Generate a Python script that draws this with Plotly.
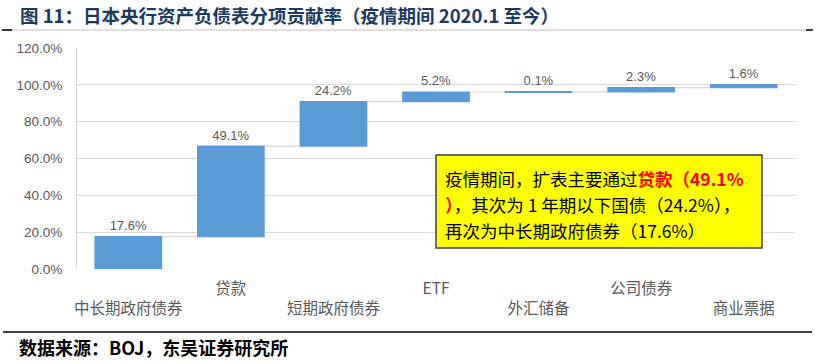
import plotly.graph_objects as go

categories = ["中长期政府债券", "贷款", "短期政府债券", "ETF", "外汇储备", "公司债券", "商业票据"]
contrib = [17.6, 49.1, 24.2, 5.2, 0.1, 2.3, 1.6]
y_ticks = [0, 20, 40, 60, 80, 100, 120]

# stagger tick labels into two rows like the original
tick_text = [c if i % 2 == 1 else "<br>" + c for i, c in enumerate(categories)]

W, H = 821, 364
L, R, T, B = 77, 26, 48, 95
pw, ph = W - L - R, H - T - B


def px(x):
    return (x - L) / pw


def py(y):
    return (H - B - y) / ph


NUMFONT = "Liberation Sans, Arial, sans-serif"

fig = go.Figure()
fig.add_trace(go.Waterfall(
    x=categories,
    y=contrib,
    measure=["relative"] * len(contrib),
    text=[f"{v:.1f}%" for v in contrib],
    textposition="outside",
    textfont=dict(family=NUMFONT, size=13, color="#595959"),
    increasing=dict(marker=dict(color="#5B9BD5", line=dict(width=0))),
    decreasing=dict(marker=dict(color="#5B9BD5", line=dict(width=0))),
    connector=dict(line=dict(color="#D9D9D9", width=1.2)),
    cliponaxis=False,
    hoverinfo="skip",
))

fig.update_layout(
    width=W, height=H,
    margin=dict(l=L, r=R, t=T, b=B, autoexpand=False),
    paper_bgcolor="white", plot_bgcolor="white",
    showlegend=False,
    waterfallgap=0.34,
    font=dict(family="Noto Sans CJK SC", color="#595959"),
)
fig.update_yaxes(
    range=[0, 120], tickvals=y_ticks, ticktext=[f"{v:.1f}%" for v in y_ticks],
    showgrid=True, gridcolor="#D9D9D9", gridwidth=1,
    showline=True, linecolor="#D9D9D9", linewidth=1,
    zeroline=False, ticks="", automargin=False,
    tickfont=dict(family=NUMFONT, size=13.5, color="#595959"),
    ticklabelstandoff=11,
)
fig.update_xaxes(
    tickvals=categories, ticktext=tick_text,
    showgrid=False, showline=False, zeroline=False, ticks="", automargin=False,
    tickfont=dict(family="Noto Sans CJK SC", size=15.5, color="#595959"),
    ticklabelstandoff=8, tickangle=0,
)

shapes = [
    dict(type="line", xref="paper", yref="paper", x0=px(3), x1=px(812), y0=py(30), y1=py(30),
         line=dict(color="#BFBFBF", width=1.2)),
    dict(type="line", xref="paper", yref="paper", x0=px(2), x1=px(12), y0=py(30), y1=py(30),
         line=dict(color="#000000", width=1.5)),
    dict(type="line", xref="paper", yref="paper", x0=px(806), x1=px(813), y0=py(30), y1=py(30),
         line=dict(color="#000000", width=1.5)),
    dict(type="line", xref="paper", yref="paper", x0=px(3), x1=px(812), y0=py(332), y1=py(332),
         line=dict(color="#000000", width=1.5)),
    dict(type="rect", xref="paper", yref="paper", x0=px(436), x1=px(762), y0=py(248), y1=py(155),
         fillcolor="#FFFF00", line=dict(color="#404040", width=1.5), layer="above"),
]
fig.update_layout(shapes=shapes)

anns = [
    dict(text="<b>图 11：日本央行资产负债表分项贡献率（疫情期间 2020.1 至今）</b>",
         x=px(18), y=py(15), xanchor="left", yanchor="middle",
         font=dict(family="Noto Sans CJK SC", size=18.5, color="#1B3A63")),
    dict(text="<b>数据来源：BOJ，东吴证券研究所</b>",
         x=px(17), y=py(347), xanchor="left", yanchor="middle",
         font=dict(family="Noto Sans CJK SC", size=18, color="#000000")),
    dict(text="疫情期间，扩表主要通过<span style='color:#FF0000'><b>贷款（49.1%</b></span>",
         x=px(443), y=py(178), xanchor="left", yanchor="middle",
         font=dict(family="Noto Sans CJK SC", size=17.5, color="#000000")),
    dict(text="<span style='color:#FF0000'><b>）</b></span>，其次为 1 年期以下国债（24.2%），",
         x=px(443), y=py(205), xanchor="left", yanchor="middle",
         font=dict(family="Noto Sans CJK SC", size=17.5, color="#000000")),
    dict(text="再次为中长期政府债券（17.6%）",
         x=px(443), y=py(230), xanchor="left", yanchor="middle",
         font=dict(family="Noto Sans CJK SC", size=17.5, color="#000000")),
]
for a in anns:
    a.update(xref="paper", yref="paper", showarrow=False)
fig.update_layout(annotations=anns)

fig.write_html(
    "out.html",
    config={"displayModeBar": False},
    post_script="document.body.style.margin='0px';document.body.style.overflow='hidden';",
)
